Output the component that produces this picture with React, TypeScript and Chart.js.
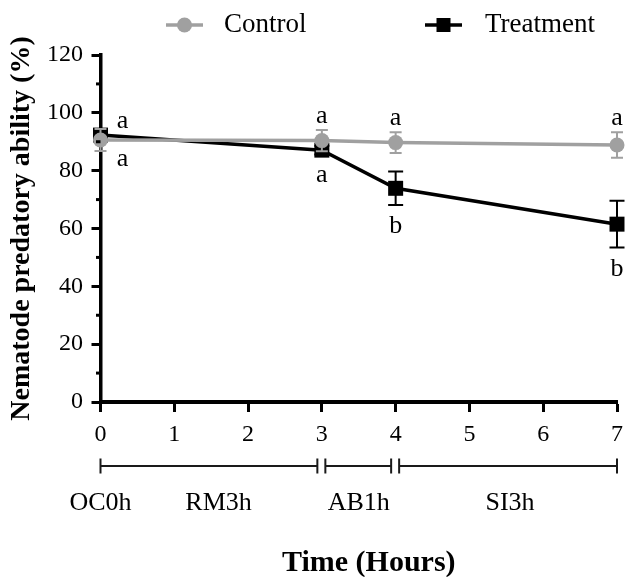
import React, { useEffect, useRef } from 'react';
import { Chart, registerables } from 'chart.js';

Chart.register(...registerables);

// ---- data ----
const timePoints = [0, 3, 4, 7];
const controlMean = [90.6, 90.4, 89.7, 88.9];
const controlSem = [3.8, 3.7, 3.6, 4.4];
const treatmentMean = [92.3, 87.1, 73.9, 61.5];
const treatmentSem = [2.0, 1.5, 5.8, 8.1];
const controlLetters = ['a', 'a', 'a', 'a'];
const treatmentLetters = ['a', 'a', 'b', 'b'];
const seriesNames = ['Control', 'Treatment'];
const phaseNames = ['OC0h', 'RM3h', 'AB1h', 'SI3h'];
const phaseNameAt = [0, 1.6, 3.5, 5.55];
const phaseStart = [0, 3, 4];
const phaseEnd = [3, 4, 7];
const xMin = 0;
const xMax = 7;
const xStep = 1;
const yMin = 0;
const yMax = 120;
const yStep = 20;
const xTitle = 'Time (Hours)';
const yTitle = 'Nematode predatory ability (%)';

// ---- styles ----
const GRAY = '#a0a0a0';
const BLACK = '#000000';
const SERIF = '"Liberation Serif", "Times New Roman", serif';

const annotPlugin = {
  id: 'annot',
  afterDatasetDraw(chart: any, args: any) {
    const ctx = chart.ctx;
    const xs = chart.scales.x;
    const ys = chart.scales.y;
    const i = args.index;
    const means = i === 0 ? controlMean : treatmentMean;
    const errs = i === 0 ? controlSem : treatmentSem;
    const color = i === 0 ? GRAY : BLACK;
    const cap = i === 0 ? 6 : 7.5;
    ctx.save();
    ctx.strokeStyle = color;
    ctx.lineWidth = 2;
    timePoints.forEach((t, k) => {
      const px = xs.getPixelForValue(t);
      const top = ys.getPixelForValue(means[k] + errs[k]);
      const bot = ys.getPixelForValue(means[k] - errs[k]);
      ctx.beginPath();
      ctx.moveTo(px, top);
      ctx.lineTo(px, bot);
      ctx.moveTo(px - cap, top);
      ctx.lineTo(px + cap, top);
      ctx.moveTo(px - cap, bot);
      ctx.lineTo(px + cap, bot);
      ctx.stroke();
    });
    ctx.restore();
  },
  afterDraw(chart: any) {
    const ctx = chart.ctx;
    const xs = chart.scales.x;
    const ys = chart.scales.y;
    const area = chart.chartArea;
    ctx.save();

    // minor y ticks
    ctx.strokeStyle = BLACK;
    ctx.lineWidth = 3;
    const ticks = ys.ticks;
    for (let k = 0; k < ticks.length - 1; k++) {
      const v = (ticks[k].value + ticks[k + 1].value) / 2;
      const py = ys.getPixelForValue(v);
      ctx.beginPath();
      ctx.moveTo(area.left - 4.5, py);
      ctx.lineTo(area.left, py);
      ctx.stroke();
    }

    // significance letters
    ctx.fillStyle = BLACK;
    ctx.font = `26px ${SERIF}`;
    ctx.textAlign = 'center';
    ctx.textBaseline = 'alphabetic';
    timePoints.forEach((t, k) => {
      const px = xs.getPixelForValue(t);
      const cHigher = controlMean[k] >= treatmentMean[k];
      const hiMean = cHigher ? controlMean[k] : treatmentMean[k];
      const hiErr = cHigher ? controlSem[k] : treatmentSem[k];
      const loMean = cHigher ? treatmentMean[k] : controlMean[k];
      const loErr = cHigher ? treatmentSem[k] : controlSem[k];
      const hiLetter = cHigher ? controlLetters[k] : treatmentLetters[k];
      const loLetter = cHigher ? treatmentLetters[k] : controlLetters[k];
      const hiTop = ys.getPixelForValue(hiMean + hiErr);
      const loBot = ys.getPixelForValue(loMean - loErr);
      if (k === 0) {
        ctx.fillText(hiLetter, px + 22, hiTop - 1);
        ctx.fillText(loLetter, px + 22, loBot + 15);
      } else {
        ctx.fillText(hiLetter, px, hiTop - 7);
        ctx.fillText(loLetter, px, loBot + 28);
      }
    });

    // phase brackets
    const by = 466;
    ctx.strokeStyle = '#1a1a1a';
    ctx.lineWidth = 2;
    phaseStart.forEach((s, k) => {
      let x1 = xs.getPixelForValue(s);
      let x2 = xs.getPixelForValue(phaseEnd[k]);
      if (k > 0) x1 += 3.5;
      if (k < phaseStart.length - 1) x2 -= 4.5;
      ctx.beginPath();
      ctx.moveTo(x1, by);
      ctx.lineTo(x2, by);
      ctx.moveTo(x1, by - 7.5);
      ctx.lineTo(x1, by + 7.5);
      ctx.moveTo(x2, by - 7.5);
      ctx.lineTo(x2, by + 7.5);
      ctx.stroke();
    });
    ctx.fillStyle = BLACK;
    ctx.font = `26px ${SERIF}`;
    ctx.textAlign = 'center';
    ctx.textBaseline = 'alphabetic';
    phaseNames.forEach((n, k) => {
      ctx.fillText(n, xs.getPixelForValue(phaseNameAt[k]), 510);
    });

    // x title
    ctx.font = `bold 30px ${SERIF}`;
    ctx.textBaseline = 'middle';
    ctx.fillText(xTitle, (area.left + area.right) / 2 + 10, 563);

    // legend
    const ly = 25;
    const items = [
      { name: seriesNames[0], color: GRAY, cx: 184.5, tx: 224, shape: 'circle' },
      { name: seriesNames[1], color: BLACK, cx: 443.5, tx: 485, shape: 'rect' },
    ];
    items.forEach((it) => {
      ctx.strokeStyle = it.color;
      ctx.fillStyle = it.color;
      ctx.lineWidth = 3.5;
      ctx.beginPath();
      ctx.moveTo(it.cx - 18.5, ly);
      ctx.lineTo(it.cx + 18.5, ly);
      ctx.stroke();
      ctx.beginPath();
      if (it.shape === 'circle') {
        ctx.arc(it.cx, ly, 7.5, 0, Math.PI * 2);
      } else {
        ctx.rect(it.cx - 7, ly - 7, 14, 14);
      }
      ctx.fill();
      ctx.fillStyle = BLACK;
      ctx.font = `27px ${SERIF}`;
      ctx.textAlign = 'left';
      ctx.textBaseline = 'middle';
      ctx.fillText(it.name, it.tx, ly);
    });

    ctx.restore();
  },
};

export default function App() {
  const canvasRef = useRef<HTMLCanvasElement | null>(null);

  useEffect(() => {
    document.body.style.margin = '0';
    const canvas = canvasRef.current;
    if (!canvas) return;
    Chart.defaults.font.family = SERIF;
    Chart.defaults.color = BLACK;

    const chart = new Chart(canvas, {
      type: 'line',
      data: {
        datasets: [
          {
            label: seriesNames[0],
            data: timePoints.map((t, i) => ({ x: t, y: controlMean[i] })),
            borderColor: GRAY,
            backgroundColor: GRAY,
            borderWidth: 3.5,
            pointStyle: 'circle',
            pointRadius: 7.5,
            pointBorderWidth: 0,
            pointBackgroundColor: GRAY,
            tension: 0,
            clip: false,
          },
          {
            label: seriesNames[1],
            data: timePoints.map((t, i) => ({ x: t, y: treatmentMean[i] })),
            borderColor: BLACK,
            backgroundColor: BLACK,
            borderWidth: 3.5,
            pointStyle: 'rect',
            pointRadius: 10.6,
            pointBorderWidth: 0,
            pointBackgroundColor: BLACK,
            tension: 0,
            clip: false,
          },
        ],
      },
      options: {
        animation: false,
        responsive: false,
        devicePixelRatio: 1,
        layout: { padding: { top: 55, right: 11, left: 0, bottom: 0 } },
        plugins: {
          legend: { display: false },
          tooltip: { enabled: false },
        },
        scales: {
          x: {
            type: 'linear',
            min: xMin,
            max: xMax,
            ticks: { stepSize: xStep, font: { size: 24 }, color: BLACK, padding: 8 },
            grid: {
              display: true,
              drawOnChartArea: false,
              drawTicks: true,
              tickLength: 10,
              tickWidth: 3,
              tickColor: BLACK,
            },
            border: { display: true, width: 4, color: BLACK },
            afterFit: (s: any) => {
              s.height = 175;
            },
          },
          y: {
            type: 'linear',
            min: yMin,
            max: yMax,
            ticks: { stepSize: yStep, font: { size: 24 }, color: BLACK, padding: 8.5 },
            grid: {
              display: true,
              drawOnChartArea: false,
              drawTicks: true,
              tickLength: 9,
              tickWidth: 3,
              tickColor: BLACK,
            },
            border: { display: true, width: 3.5, color: BLACK },
            title: {
              display: true,
              text: yTitle,
              font: { size: 28, weight: 'bold' },
              color: BLACK,
              padding: { top: 5, bottom: 0 },
            },
            afterFit: (s: any) => {
              s.width = 100.5;
            },
          },
        },
      },
      plugins: [annotPlugin],
    } as any);

    return () => chart.destroy();
  }, []);

  return (
    <div style={{ width: 631, height: 577 }}>
      <canvas ref={canvasRef} width={631} height={577} style={{ display: 'block' }} />
    </div>
  );
}
